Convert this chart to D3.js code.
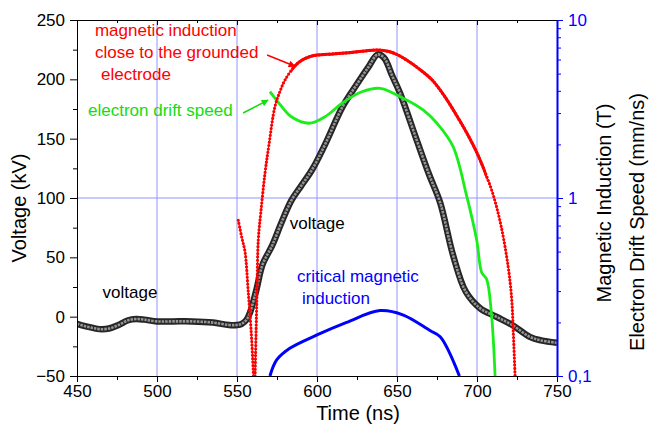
<!DOCTYPE html>
<html>
<head>
<meta charset="utf-8">
<script src="https://cdn.jsdelivr.net/npm/d3@7"></script>
<style>
body { margin: 0; background: #fff; }
text { font-family: Arial, "Liberation Sans", sans-serif; }
</style>
</head>
<body>
<script>
// data

const timeTicks = [450, 500, 550, 600, 650, 700, 750];
const timeMinor = [475, 525, 575, 625, 675, 725];
const voltTicks = [-50, 0, 50, 100, 150, 200, 250];
const voltMinor = [-25, 25, 75, 125, 175, 225];
const logTicks = [0.1, 1, 10];
const logTickLabels = ["0,1", "1", "10"];
const logMinor = [0.2, 0.3, 0.4, 0.5, 0.6, 0.7, 0.8, 0.9, 2, 3, 4, 5, 6, 7, 8, 9];

// voltage (kV), left axis
const voltT = [450, 455, 460, 464, 470, 476, 482, 487, 492, 500, 510, 522, 535, 545, 550, 553, 556, 558, 562, 566, 572, 578, 584, 590, 597, 605, 616, 625, 632, 638, 642, 647, 652, 662, 670, 677, 685, 693, 702, 712, 722, 733, 740, 750];
const voltV = [-6, -8, -9.5, -10.5, -10, -7, -3, -2, -2.5, -4, -4, -4, -5, -7, -7, -6, -2.5, 3, 22, 44, 60, 80, 98, 110, 124, 145, 177, 196, 210, 221, 218, 203, 188, 150, 120, 96, 52, 21, 7, 0, -7, -17, -20, -22];

// magnetic induction close to the grounded electrode (T), right axis, two branches
const magT1 = [550.8, 553, 555, 557, 559, 560.3];
const magB1 = [0.75, 0.6, 0.5, 0.3, 0.17, 0.1];
const magT2 = [561.3, 562.5, 563.3, 565, 567.5, 570, 573.7, 577, 580, 586, 590, 595, 600, 610, 620, 630, 638, 645, 650, 656, 664, 672, 680, 689, 695, 700, 705, 710, 715, 719.5, 721.7, 722.7, 723.8];
const magB2 = [0.1, 0.3, 0.58, 0.85, 1.38, 2.0, 3.26, 4.0, 4.6, 5.5, 5.9, 6.2, 6.35, 6.45, 6.55, 6.7, 6.78, 6.65, 6.4, 5.96, 5.3, 4.6, 3.7, 2.74, 2.2, 1.79, 1.4, 1.05, 0.7, 0.41, 0.27, 0.175, 0.1];

// electron drift speed (mm/ns), right axis
const driftT = [570.6, 578, 584, 595, 605, 616.5, 628, 639.4, 652, 666.5, 675, 685, 693.5, 699.8, 703, 706, 709, 711.3];
const driftV = [3.96, 3.26, 2.86, 2.63, 2.86, 3.45, 3.95, 4.13, 3.71, 3.12, 2.63, 1.95, 1.03, 0.58, 0.38, 0.35, 0.225, 0.1];

// critical magnetic induction (T), right axis
const critT = [570.6, 574.8, 583, 600, 618.5, 639.4, 654, 670.6, 677, 689];
const critB = [0.1, 0.123, 0.143, 0.17, 0.2, 0.233, 0.22, 0.18, 0.166, 0.1];

// chart setup

const w = 649;
const h = 431;
const m = { top: 20, right: 92, bottom: 55, left: 77 };

const svg = d3.select("body").append("svg")
  .attr("width", w)
  .attr("height", h)
  .style("background", "#fff");

const x = d3.scaleLinear().domain([450, 750]).range([m.left, w - m.right]);
const y = d3.scaleLinear().domain([-50, 250]).range([h - m.bottom, m.top]);
const yLog = d3.scaleLog().domain([0.1, 10]).range([h - m.bottom, m.top]);

const blue = "#0000ff";
const red = "#ff0000";
const green = "#1aee1a";
const grid = "#9494ff";

const defs = svg.append("defs");

defs.append("clipPath").attr("id", "plot")
  .append("rect")
  .attr("x", m.left).attr("y", m.top)
  .attr("width", w - m.left - m.right)
  .attr("height", h - m.top - m.bottom);

// where the red markers are so dense they merge into a solid line
defs.append("clipPath").attr("id", "dense")
  .append("rect")
  .attr("x", x(584)).attr("y", m.top)
  .attr("width", x(706) - x(584))
  .attr("height", h - m.top - m.bottom);

// grid lines
svg.append("g").selectAll("line")
  .data([500, 550, 600, 650, 700])
  .enter().append("line")
  .attr("x1", d => x(d)).attr("x2", d => x(d))
  .attr("y1", m.top).attr("y2", h - m.bottom)
  .attr("stroke", grid).attr("stroke-width", 1);

svg.append("line")
  .attr("x1", m.left).attr("x2", w - m.right)
  .attr("y1", yLog(1)).attr("y2", yLog(1))
  .attr("stroke", grid).attr("stroke-width", 1);

// curves

const plot = svg.append("g").attr("clip-path", "url(#plot)");

const lineV = d3.line()
  .x(d => x(d[0])).y(d => y(d[1]))
  .curve(d3.curveCatmullRom.alpha(0.5));
const lineL = d3.line()
  .x(d => x(d[0])).y(d => yLog(d[1]))
  .curve(d3.curveCatmullRom.alpha(0.5));

const volt = voltT.map((t, i) => [t, voltV[i]]);
plot.append("path").attr("d", lineV(volt))
  .attr("fill", "none").attr("stroke", "#262626").attr("stroke-width", 6.5);
plot.append("path").attr("d", lineV(volt))
  .attr("fill", "none").attr("stroke", "#959595").attr("stroke-width", 2.6)
  .attr("stroke-dasharray", "2.5,1");

const crit = critT.map((t, i) => [t, critB[i]]);
plot.append("path").attr("d", lineL(crit))
  .attr("fill", "none").attr("stroke", blue).attr("stroke-width", 3);

const drift = driftT.map((t, i) => [t, driftV[i]]);
plot.append("path").attr("d", lineL(drift))
  .attr("fill", "none").attr("stroke", green).attr("stroke-width", 2.8);

const mag1 = magT1.map((t, i) => [t, magB1[i]]);
const mag2 = magT2.map((t, i) => [t, magB2[i]]);
[mag1, mag2].forEach(seg => {
  plot.append("path").attr("d", lineL(seg))
    .attr("fill", "none").attr("stroke", red).attr("stroke-width", 1);
  plot.append("path").attr("d", lineL(seg))
    .attr("fill", "none").attr("stroke", red).attr("stroke-width", 3.2)
    .attr("stroke-linecap", "round").attr("stroke-dasharray", "0,3.4");
});
plot.append("g").attr("clip-path", "url(#dense)")
  .append("path").attr("d", lineL(mag2))
  .attr("fill", "none").attr("stroke", red).attr("stroke-width", 3);

// axes

function styleAxis(g, color, size) {
  g.selectAll("line").attr("stroke", color);
  g.selectAll("path").attr("stroke", color);
  g.selectAll("text").attr("fill", color).style("font-size", size + "px")
    .style("font-family", "Arial, 'Liberation Sans', sans-serif");
}

const leftAxis = svg.append("g").attr("transform", "translate(" + m.left + ",0)")
  .call(d3.axisLeft(y).tickValues(voltTicks).tickSize(7).tickPadding(5).tickSizeOuter(0));
styleAxis(leftAxis, "#000", 17);
const leftMinor = svg.append("g").attr("transform", "translate(" + m.left + ",0)")
  .call(d3.axisLeft(y).tickValues(voltMinor).tickSize(4).tickFormat("").tickSizeOuter(0));
styleAxis(leftMinor, "#000", 17);

const bottomAxis = svg.append("g").attr("transform", "translate(0," + (h - m.bottom) + ")")
  .call(d3.axisBottom(x).tickValues(timeTicks).tickSize(6).tickPadding(3).tickSizeOuter(0));
styleAxis(bottomAxis, "#000", 17);
const bottomMinor = svg.append("g").attr("transform", "translate(0," + (h - m.bottom) + ")")
  .call(d3.axisBottom(x).tickValues(timeMinor).tickSize(4).tickFormat("").tickSizeOuter(0));
styleAxis(bottomMinor, "#000", 17);

const topAxis = svg.append("g").attr("transform", "translate(0," + m.top + ")")
  .call(d3.axisBottom(x).tickValues(timeTicks).tickSize(5).tickFormat("").tickSizeOuter(0));
styleAxis(topAxis, "#000", 17);
const topMinor = svg.append("g").attr("transform", "translate(0," + m.top + ")")
  .call(d3.axisBottom(x).tickValues(timeMinor).tickSize(3).tickFormat("").tickSizeOuter(0));
styleAxis(topMinor, "#000", 17);

const rightAxis = svg.append("g").attr("transform", "translate(" + (w - m.right) + ",0)")
  .call(d3.axisRight(yLog).tickValues(logTicks).tickSize(6).tickPadding(5).tickSizeOuter(0)
    .tickFormat((d, i) => logTickLabels[i]));
styleAxis(rightAxis, blue, 17);
rightAxis.select(".domain").attr("stroke-width", 1.6);
const rightMinor = svg.append("g").attr("transform", "translate(" + (w - m.right) + ",0)")
  .call(d3.axisRight(yLog).tickValues(logMinor).tickSize(4).tickFormat("").tickSizeOuter(0));
styleAxis(rightMinor, blue, 17);
rightMinor.select(".domain").attr("stroke-width", 1.6);

// axis titles

svg.append("text").attr("transform", "translate(26,208) rotate(-90)")
  .attr("text-anchor", "middle").style("font-size", "20px").text("Voltage (kV)");
svg.append("text").attr("x", 358).attr("y", 420)
  .attr("text-anchor", "middle").style("font-size", "20px").text("Time (ns)");
svg.append("text").attr("transform", "translate(611,203) rotate(-90)")
  .attr("text-anchor", "middle").style("font-size", "20px").text("Magnetic Induction (T)");
svg.append("text").attr("transform", "translate(644,222) rotate(-90)")
  .attr("text-anchor", "middle").style("font-size", "20px").text("Electron Drift Speed (mm/ns)");

// annotations (positions in data units)

const notes = [
  { t: 461.2, v: 236.5, text: "magnetic induction", color: red },
  { t: 461.2, v: 218, text: "close to the grounded", color: red },
  { t: 465, v: 199.5, text: "electrode", color: red },
  { t: 456.9, v: 169, text: "electron drift speed", color: "#11dd11" },
  { t: 583, v: 74, text: "voltage", color: "#000" },
  { t: 466, v: 15.8, text: "voltage", color: "#000" },
  { t: 587.5, v: 29, text: "critical magnetic", color: blue },
  { t: 590.6, v: 10.7, text: "induction", color: blue }
];

svg.selectAll(".note").data(notes).enter().append("text")
  .attr("class", "note")
  .attr("x", d => x(d.t)).attr("y", d => y(d.v))
  .attr("fill", d => d.color)
  .style("font-size", "17px")
  .text(d => d.text);

const arrows = [
  { t0: 568.8, v0: 220.5, t1: 586.2, v1: 211, color: red },
  { t0: 553.8, v0: 171.6, t1: 569.4, v1: 182.5, color: "#11dd11" }
];

arrows.forEach((a, i) => {
  defs.append("marker").attr("id", "head" + i)
    .attr("viewBox", "0 0 10 10").attr("refX", 9).attr("refY", 5)
    .attr("markerWidth", 9).attr("markerHeight", 7).attr("markerUnits", "userSpaceOnUse")
    .attr("orient", "auto")
    .append("path").attr("d", "M0,0L10,5L0,10z").attr("fill", a.color);
  svg.append("line")
    .attr("x1", x(a.t0)).attr("y1", y(a.v0))
    .attr("x2", x(a.t1)).attr("y2", y(a.v1))
    .attr("stroke", a.color).attr("stroke-width", 1.5)
    .attr("marker-end", "url(#head" + i + ")");
});
</script>
</body>
</html>
